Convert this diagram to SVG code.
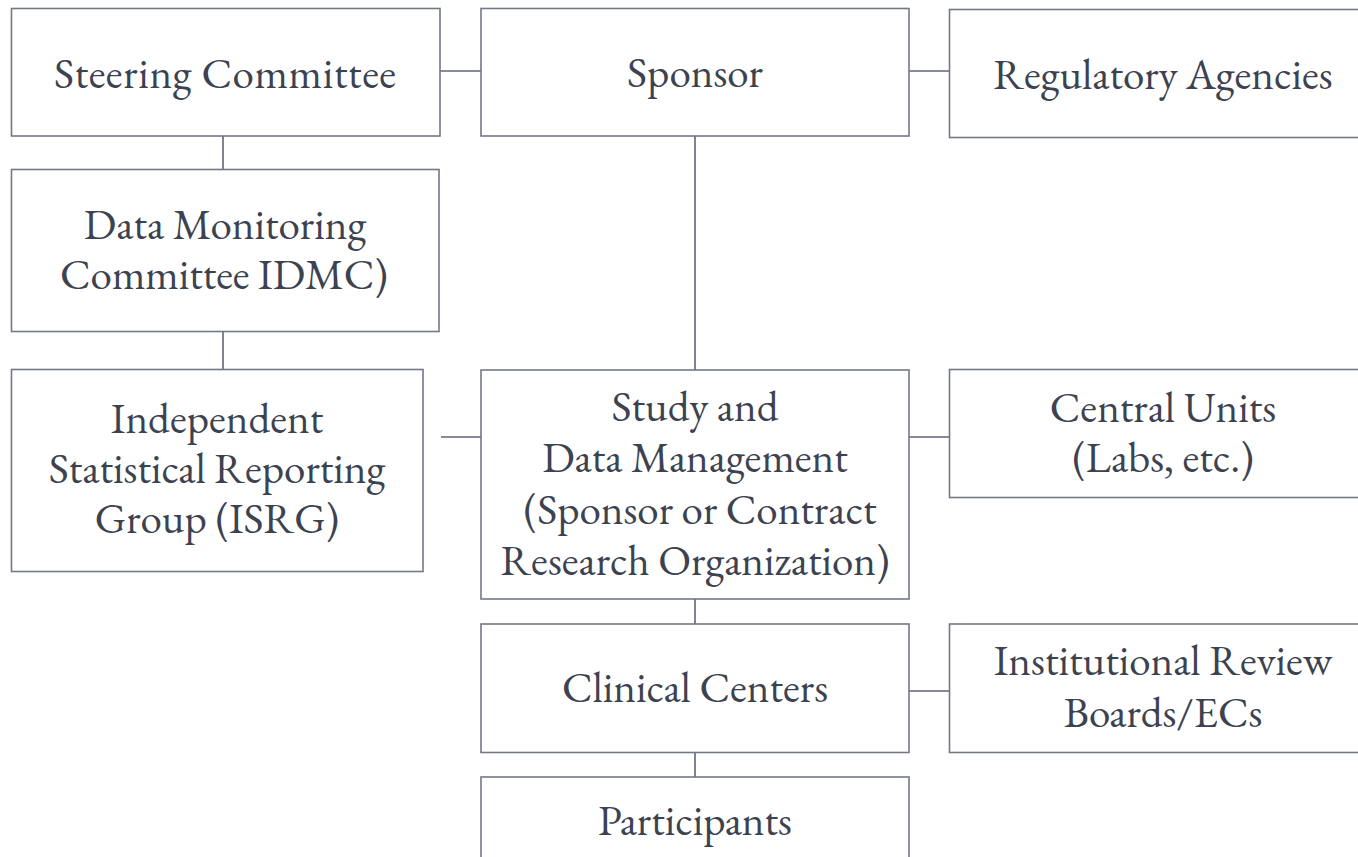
<svg xmlns="http://www.w3.org/2000/svg" width="1358" height="857" viewBox="0 0 1358 857">
  <style>
    .box { fill: #ffffff; stroke: #737887; stroke-width: 1.6; }
    .link { stroke: #5f6573; stroke-width: 1.6; fill: none; }
    .label { font-family: "EB Garamond", "Liberation Serif", serif; font-size: 43px; fill: #3c4250; text-anchor: middle; }
  </style>
  <rect width="1358" height="857" fill="#ffffff"/>

  <!-- connecting lines between boxes -->
  <g id="connectors">
    <line class="link" x1="440" y1="71" x2="481" y2="71"/>
    <line class="link" x1="909" y1="71" x2="949" y2="71"/>
    <line class="link" x1="223" y1="136" x2="223" y2="169"/>
    <line class="link" x1="223" y1="331" x2="223" y2="369"/>
    <line class="link" x1="695" y1="136" x2="695" y2="370"/>
    <line class="link" x1="441" y1="437" x2="481" y2="437"/>
    <line class="link" x1="909" y1="437" x2="949" y2="437"/>
    <line class="link" x1="695" y1="599" x2="695" y2="624"/>
    <line class="link" x1="909" y1="691" x2="949" y2="691"/>
    <line class="link" x1="695" y1="752" x2="695" y2="777"/>
  </g>

  <g id="steering-committee">
    <rect class="box" x="11.5" y="8.5" width="428.5" height="127.5"/>
    <text class="label" x="225" y="88" textLength="342" lengthAdjust="spacing">Steering Committee</text>
  </g>

  <g id="sponsor">
    <rect class="box" x="481" y="8.5" width="428" height="127.5"/>
    <text class="label" x="695" y="87">Sponsor</text>
  </g>

  <g id="regulatory-agencies">
    <rect class="box" x="949.5" y="9.5" width="428" height="128"/>
    <text class="label" x="1163" y="89">Regulatory Agencies</text>
  </g>

  <g id="data-monitoring-committee">
    <rect class="box" x="11.5" y="169.5" width="427.5" height="162"/>
    <text class="label" x="225" y="239">Data Monitoring</text>
    <text class="label" x="224" y="289">Committee IDMC)</text>
  </g>

  <g id="isrg">
    <rect class="box" x="11.5" y="369.5" width="411.5" height="202"/>
    <text class="label" x="217" y="433">Independent</text>
    <text class="label" x="217" y="483">Statistical Reporting</text>
    <text class="label" x="217" y="533">Group (ISRG)</text>
  </g>

  <g id="study-data-management">
    <rect class="box" x="481" y="370" width="428" height="229"/>
    <text class="label" x="695" y="421">Study and</text>
    <text class="label" x="695" y="472">Data Management</text>
    <text class="label" x="700" y="524">(Sponsor or Contract</text>
    <text class="label" x="695" y="575">Research Organization)</text>
  </g>

  <g id="central-units">
    <rect class="box" x="949.5" y="369.5" width="428" height="128"/>
    <text class="label" x="1163" y="422">Central Units</text>
    <text class="label" x="1163" y="472">(Labs, etc.)</text>
  </g>

  <g id="clinical-centers">
    <rect class="box" x="481" y="624" width="428" height="128.5"/>
    <text class="label" x="695" y="702">Clinical Centers</text>
  </g>

  <g id="review-boards">
    <rect class="box" x="949.5" y="624" width="428" height="128.5"/>
    <text class="label" x="1163" y="675">Institutional Review</text>
    <text class="label" x="1163" y="727">Boards/ECs</text>
  </g>

  <g id="participants">
    <rect class="box" x="481" y="777" width="428" height="130"/>
    <text class="label" x="695" y="835">Participants</text>
  </g>
</svg>
